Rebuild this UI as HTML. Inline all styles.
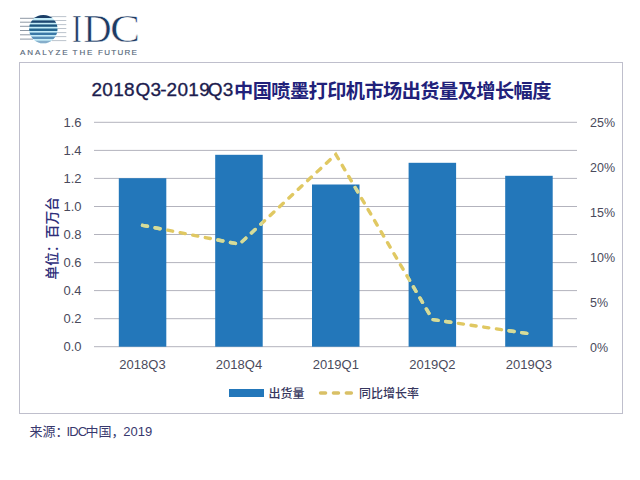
<!DOCTYPE html>
<html><head><meta charset="utf-8">
<style>
html,body{margin:0;padding:0;background:#fff;}
body{width:640px;height:480px;position:relative;overflow:hidden;font-family:"Liberation Sans","Noto Sans CJK SC",sans-serif;}
.abs{position:absolute;white-space:nowrap;}
.idc{font-family:"Liberation Serif",serif;font-size:39.3px;line-height:44px;color:#1d3a63;top:6.6px;-webkit-text-stroke:0.6px #fff;}
.tag{top:47px;font-size:8px;line-height:12px;color:#56687a;font-weight:400;-webkit-text-stroke:0.15px #56687a;}
#box{left:19px;top:61.5px;width:604px;height:352px;box-sizing:border-box;border:1.5px solid #bfbfcc;}
.t1{top:77.4px;font-size:19px;line-height:26px;letter-spacing:0.3px;color:#1c1c4e;-webkit-text-stroke:0.35px #1c1c4e;}
#t2{left:234px;top:79px;font-size:19.2px;letter-spacing:-0.55px;line-height:26px;font-weight:700;color:#21217a;}
.src{top:421.5px;font-size:13px;line-height:20px;color:#38386e;}
</style></head>
<body>
<svg class="abs" style="left:0;top:0" width="640" height="480" viewBox="0 0 640 480">
  <!-- logo -->
  <defs>
    <clipPath id="sph"><circle cx="43.3" cy="29.1" r="14.2"/></clipPath>
  </defs>
  <g stroke="#8e98a4" stroke-width="1">
    <line x1="20" y1="18.3" x2="36" y2="18.3"/>
    <line x1="20" y1="22.2" x2="33" y2="22.2"/>
    <line x1="20" y1="26.3" x2="31" y2="26.3"/>
    <line x1="20" y1="30.5" x2="31" y2="30.5"/>
    <line x1="20" y1="34.8" x2="31" y2="34.8"/>
    <line x1="20" y1="39.1" x2="33" y2="39.1"/>
  </g>
  <g stroke="#b4bcc6" stroke-width="0.9">
    <line x1="50" y1="16.6" x2="66.3" y2="16.6"/>
    <line x1="54" y1="20.5" x2="66.3" y2="20.5"/>
    <line x1="56" y1="24.6" x2="66.3" y2="24.6"/>
    <line x1="56" y1="28.5" x2="66.3" y2="28.5"/>
    <line x1="56" y1="32.6" x2="66.3" y2="32.6"/>
    <line x1="55" y1="36.6" x2="66.3" y2="36.6"/>
    <line x1="52" y1="40.6" x2="66.3" y2="40.6"/>
  </g>
  <g clip-path="url(#sph)">
    <rect x="28" y="14" width="31" height="31" fill="#c4ecf8"/>
    <rect x="28" y="14" width="31" height="4" fill="#1b3d66"/>
    <rect x="28" y="20.4" width="31" height="2.4" fill="#1c4670"/>
    <rect x="28" y="24.4" width="31" height="2.4" fill="#1e5680"/>
    <rect x="28" y="28.5" width="31" height="2.5" fill="#266690"/>
    <rect x="28" y="32.6" width="31" height="2.4" fill="#3a78a6"/>
    <rect x="28" y="36.6" width="31" height="2.4" fill="#5a90b8"/>
    <rect x="28" y="40.7" width="31" height="4" fill="#86aecb"/>
  </g>
  <!-- grid -->
  <g stroke="#b3b3bd" stroke-width="1">
    <line x1="94" y1="122.3" x2="577" y2="122.3"/>
    <line x1="94" y1="150.4" x2="577" y2="150.4"/>
    <line x1="94" y1="178.4" x2="577" y2="178.4"/>
    <line x1="94" y1="206.5" x2="577" y2="206.5"/>
    <line x1="94" y1="234.5" x2="577" y2="234.5"/>
    <line x1="94" y1="262.6" x2="577" y2="262.6"/>
    <line x1="94" y1="290.6" x2="577" y2="290.6"/>
    <line x1="94" y1="318.7" x2="577" y2="318.7"/>
    <line x1="94" y1="346.7" x2="577" y2="346.7"/>
  </g>
  <!-- bars -->
  <g fill="#2377ba">
    <rect x="118.8" y="178.2" width="47.5" height="168.5"/>
    <rect x="215.2" y="154.8" width="47.5" height="191.9"/>
    <rect x="312" y="184.5" width="47.5" height="162.2"/>
    <rect x="408.6" y="162.8" width="47.5" height="183.9"/>
    <rect x="505.2" y="175.8" width="47.5" height="170.9"/>
  </g>
  <!-- line -->
  <clipPath id="barclip">
    <rect x="118.8" y="178.2" width="47.5" height="168.5"/>
    <rect x="215.2" y="154.8" width="47.5" height="191.9"/>
    <rect x="312" y="184.5" width="47.5" height="162.2"/>
    <rect x="408.6" y="162.8" width="47.5" height="183.9"/>
    <rect x="505.2" y="175.8" width="47.5" height="170.9"/>
  </clipPath>
  <polyline id="gl" points="142.5,225.3 239.3,244.2 335.8,154.4 432.6,319.6 528.9,333.7" fill="none" stroke="#e0c862" stroke-width="3.4" stroke-dasharray="5.1,7.7" stroke-linecap="round" stroke-linejoin="miter"/>
  <polyline clip-path="url(#barclip)" points="142.5,225.3 239.3,244.2 335.8,154.4 432.6,319.6 528.9,333.7" fill="none" stroke="#d4dc9c" stroke-width="3.4" stroke-dasharray="5.1,7.7" stroke-linecap="round" stroke-linejoin="miter"/>
  <!-- left axis labels -->
  <g font-family="Liberation Sans, Noto Sans CJK SC, sans-serif" font-size="13" fill="#4a4a5c" text-anchor="end">
    <text x="81.5" y="126.6">1.6</text>
    <text x="81.5" y="154.7">1.4</text>
    <text x="81.5" y="182.7">1.2</text>
    <text x="81.5" y="210.8">1.0</text>
    <text x="81.5" y="238.8">0.8</text>
    <text x="81.5" y="266.9">0.6</text>
    <text x="81.5" y="294.9">0.4</text>
    <text x="81.5" y="323">0.2</text>
    <text x="81.5" y="351">0.0</text>
  </g>
  <!-- right axis labels -->
  <g font-family="Liberation Sans, Noto Sans CJK SC, sans-serif" font-size="12.5" fill="#4a4a5c" text-anchor="start">
    <text x="590" y="126.5">25%</text>
    <text x="590" y="171.5">20%</text>
    <text x="590" y="216.5">15%</text>
    <text x="590" y="261.5">10%</text>
    <text x="590" y="306.5">5%</text>
    <text x="590" y="351.5">0%</text>
  </g>
  <!-- x labels -->
  <g font-family="Liberation Sans, Noto Sans CJK SC, sans-serif" font-size="13" fill="#4a4a5c" text-anchor="middle">
    <text x="142.5" y="369.3">2018Q3</text>
    <text x="239" y="369.3">2018Q4</text>
    <text x="335.8" y="369.3">2019Q1</text>
    <text x="432.4" y="369.3">2019Q2</text>
    <text x="528.9" y="369.3">2019Q3</text>
  </g>
  <!-- y title -->
  <text transform="translate(57.4,279.8) rotate(-90)" font-family="Liberation Sans, Noto Sans CJK SC, sans-serif" font-size="13.8" font-weight="500" fill="#2e2e7a">单位：百万台</text>
  <!-- legend -->
  <rect x="229" y="389" width="35" height="8" fill="#2377ba"/>
  <text x="268.5" y="398" font-family="Liberation Sans, Noto Sans CJK SC, sans-serif" font-size="12" font-weight="500" fill="#36365e">出货量</text>
  <line x1="320.5" y1="393" x2="351.4" y2="393" stroke="#d9c066" stroke-width="3.4" stroke-dasharray="5.1,7.8" stroke-linecap="round"/>
  <text x="359" y="398" font-family="Liberation Sans, Noto Sans CJK SC, sans-serif" font-size="12" font-weight="500" fill="#36365e">同比增长率</text>
</svg>
<div class="abs idc" style="left:71.9px;transform:scaleX(0.74);transform-origin:0 0">I</div>
<div class="abs idc" style="left:83.2px">D</div>
<div class="abs idc" style="left:109.7px;transform:scaleX(1.15);transform-origin:0 0">C</div>
<div class="abs tag" style="left:20px;letter-spacing:1.95px">ANALYZE</div><div class="abs tag" style="left:72.6px;letter-spacing:1.9px">THE</div><div class="abs tag" style="left:98px;letter-spacing:1.3px">FUTURE</div>
<div class="abs" id="box"></div>
<div class="abs t1" style="left:91.5px">2018</div><div class="abs t1" style="left:135.4px">Q3</div><div class="abs t1" style="left:160.2px">-</div><div class="abs t1" style="left:166.6px">2019</div><div class="abs t1" style="left:207.7px">Q3</div>
<div class="abs" id="t2">中国喷墨打印机市场出货量及增长幅度</div>
<div class="abs src" style="left:29.5px">来源：</div><div class="abs src" style="left:66.5px;letter-spacing:-0.9px">IDC</div><div class="abs src" style="left:85.5px">中国，</div><div class="abs src" style="left:123.2px">2019</div>
</body></html>
